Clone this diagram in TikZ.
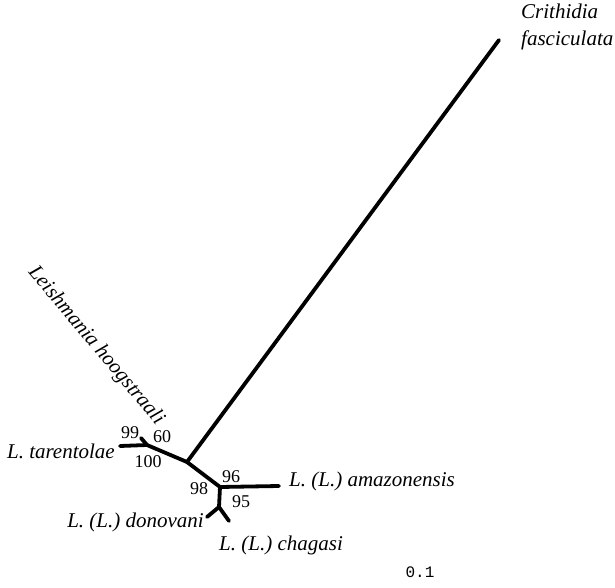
\documentclass[tikz,border=0pt]{standalone}
\usepackage{fontspec}
\setmainfont{Liberation Serif}
\setmonofont{Liberation Mono}
\usetikzlibrary{positioning}

\begin{document}
\begin{tikzpicture}[x=1pt, y=-1pt]
  \tikzset{
    branch/.style={line width=3.8pt, line cap=round, line join=round},
    taxon/.style={font=\fontsize{21}{26}\selectfont\itshape, inner sep=0pt},
    boot/.style={font=\fontsize{18}{20}\selectfont, inner sep=0pt},
  }
  \useasboundingbox (0,0) rectangle (615,588);

  % Internal nodes of the tree
  \coordinate (nB) at (147,445);
  \coordinate (nA) at (187,462);
  \coordinate (nC) at (220,487);
  \coordinate (nD) at (219,507);

  % Tips
  \coordinate (tCri) at (499,40);
  \coordinate (tHoo) at (141,438);
  \coordinate (tTar) at (120,446);
  \coordinate (tAma) at (279,486);
  \coordinate (tDon) at (207,517);
  \coordinate (tCha) at (229,521);

  % Branches
  \draw[branch] (nA) -- (tCri);
  \draw[branch] (nA) -- (nB);
  \draw[branch] (nB) -- (tHoo);
  \draw[branch] (nB) -- (tTar);
  \draw[branch] (nA) -- (nC);
  \draw[branch] (nC) -- (tAma);
  \draw[branch] (nC) -- (nD);
  \draw[branch] (nD) -- (tDon);
  \draw[branch] (nD) -- (tCha);

  % Taxon labels
  \node[taxon, anchor=west, align=left] (lCri) at (521,27)
    {Crithidia\\[1pt]fasciculata};
  \node[taxon, rotate=-50] (lHoo) at (96,346) {Leishmania hoogstraali};
  \node[taxon, anchor=east] (lTar) at (115,451) {L. tarentolae};
  \node[taxon, anchor=west] (lAma) at (289,481) {L. (L.) amazonensis};
  \node[taxon, anchor=east] (lDon) at (204,522) {L. (L.) donovani};
  \node[taxon, anchor=west] (lCha) at (219,545) {L. (L.) chagasi};

  % Bootstrap values
  \node[boot] (b99) at (130,433) {99};
  \node[boot] (b60) at (162,437) {60};
  \node[boot] (b100) at (148,462) {100};
  \node[boot] (b96) at (231,477) {96};
  \node[boot] (b98) at (199,489) {98};
  \node[boot] (b95) at (241,502) {95};

  % Scale
  \node[font=\fontsize{16}{18}\selectfont\ttfamily, inner sep=0pt] (scl) at (420,572) {0.1};
\end{tikzpicture}
\end{document}
